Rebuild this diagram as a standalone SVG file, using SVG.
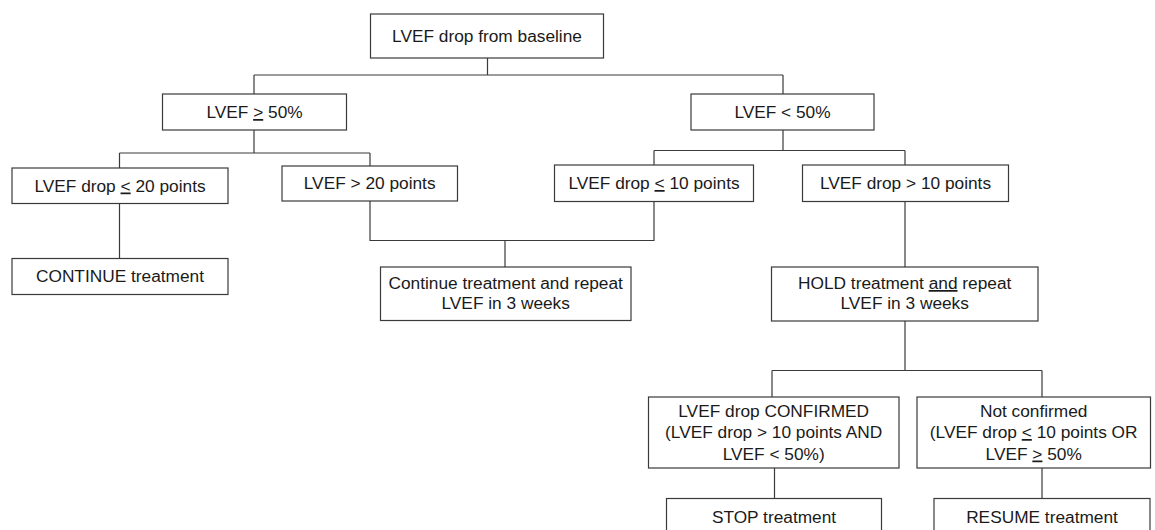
<svg xmlns="http://www.w3.org/2000/svg" width="1155" height="530" viewBox="0 0 1155 530">
<style>
.box{fill:#fff;stroke:#3a3a3a;stroke-width:1.2}
.t{font-family:"Liberation Sans",Arial,sans-serif;font-size:17.3px;fill:#1a1a1a;text-anchor:middle}
.u{text-decoration:underline}
#connectors path{fill:none;stroke:#3a3a3a;stroke-width:1.2}
</style>
<rect width="1155" height="530" fill="#fff"/>
<g id="connectors">
<path d="M487.5 58V75M254 75H783M254 75V94M783 75V94"/>
<path d="M254 130V153M119.5 153H370M119.5 153V168M370 153V166"/>
<path d="M783 130V150.5M654 150.5H905M654 150.5V165M905 150.5V165"/>
<path d="M119.5 203V258"/>
<path d="M370 201V240.5H654V201.5M505 240.5V267"/>
<path d="M905 201.5V267"/>
<path d="M905 321V370.5M772 370.5H1042M772 370.5V397M1042 370.5V397"/>
<path d="M774.5 468V498.5"/>
<path d="M1042 468V498.5"/>
</g>
<g id="n-baseline"><rect class="box" x="370.5" y="14" width="233" height="44"/><text class="t" x="487" y="42">LVEF drop from baseline</text></g>
<g id="n-ge50"><rect class="box" x="162.5" y="94" width="184" height="36"/><text class="t" x="254.5" y="118">LVEF <tspan class="u">&gt;</tspan> 50%</text></g>
<g id="n-lt50"><rect class="box" x="691" y="94" width="183" height="36"/><text class="t" x="782.5" y="118">LVEF &lt; 50%</text></g>
<g id="n-le20"><rect class="box" x="12" y="168" width="216" height="35.5"/><text class="t" x="120" y="191.5">LVEF drop <tspan class="u">&lt;</tspan> 20 points</text></g>
<g id="n-gt20"><rect class="box" x="282" y="166" width="175.5" height="35"/><text class="t" x="369.7" y="189">LVEF &gt; 20 points</text></g>
<g id="n-le10"><rect class="box" x="554.5" y="165" width="199" height="36.5"/><text class="t" x="654" y="189">LVEF drop <tspan class="u">&lt;</tspan> 10 points</text></g>
<g id="n-gt10"><rect class="box" x="802.5" y="165" width="206" height="36.5"/><text class="t" x="905.5" y="189">LVEF drop &gt; 10 points</text></g>
<g id="n-continue"><rect class="box" x="12" y="258.5" width="216" height="36"/><text class="t" x="120" y="282">CONTINUE treatment</text></g>
<g id="n-repeat"><rect class="box" x="380.5" y="267" width="250.5" height="53.5"/><text class="t" x="505.7" y="289">Continue treatment and repeat</text><text class="t" x="505.7" y="309">LVEF in 3 weeks</text></g>
<g id="n-hold"><rect class="box" x="771.5" y="267" width="266.5" height="54"/><text class="t" x="904.7" y="289">HOLD treatment <tspan class="u">and</tspan> repeat</text><text class="t" x="904.7" y="309">LVEF in 3 weeks</text></g>
<g id="n-confirmed"><rect class="box" x="648.5" y="397" width="250.5" height="71"/><text class="t" x="773.7" y="416.5">LVEF drop CONFIRMED</text><text class="t" x="773.7" y="438">(LVEF drop &gt; 10 points AND</text><text class="t" x="773.7" y="459.5">LVEF &lt; 50%)</text></g>
<g id="n-notconfirmed"><rect class="box" x="917" y="397" width="233.5" height="71"/><text class="t" x="1033.7" y="416.5">Not confirmed</text><text class="t" x="1033.7" y="438">(LVEF drop <tspan class="u">&lt;</tspan> 10 points OR</text><text class="t" x="1033.7" y="459.5">LVEF <tspan class="u">&gt;</tspan> 50%</text></g>
<g id="n-stop"><rect class="box" x="666.5" y="498.5" width="215" height="40"/><text class="t" x="774" y="523">STOP treatment</text></g>
<g id="n-resume"><rect class="box" x="934" y="498.5" width="216" height="40"/><text class="t" x="1042" y="523">RESUME treatment</text></g>
</svg>
